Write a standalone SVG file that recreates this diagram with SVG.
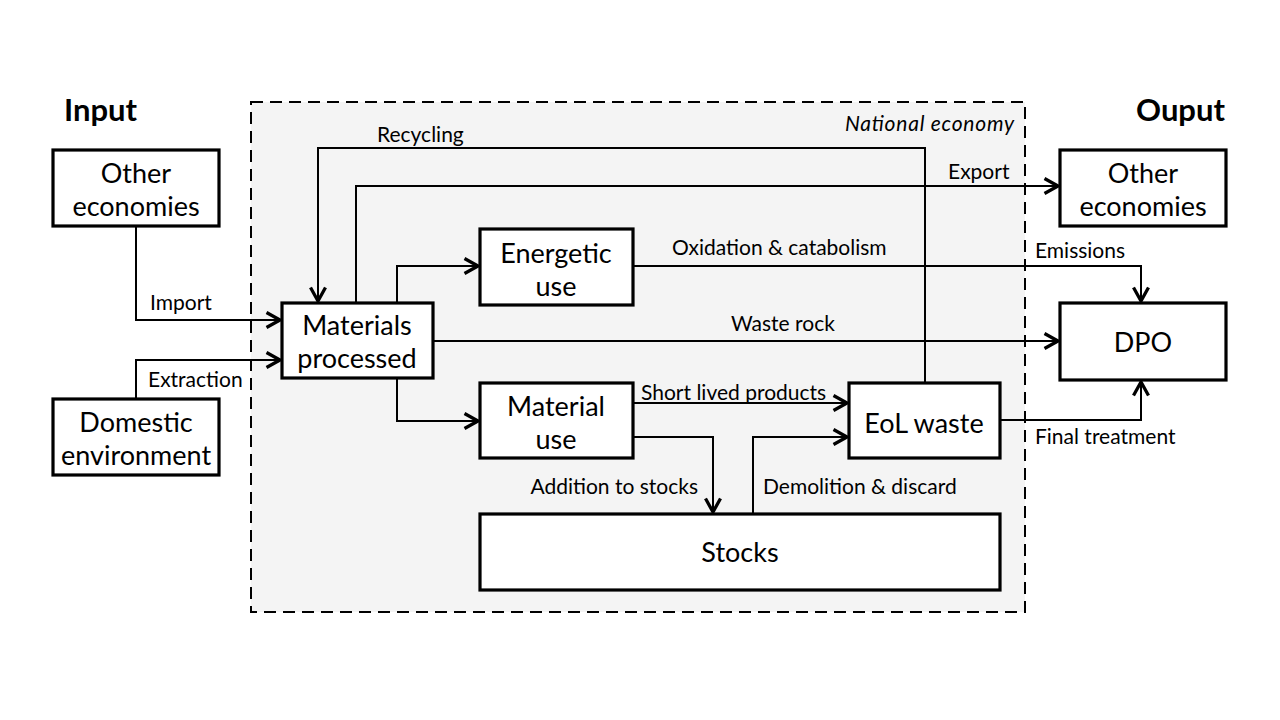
<svg xmlns="http://www.w3.org/2000/svg" width="1280" height="720" viewBox="0 0 1280 720">
<defs>
<marker id="arr" viewBox="0 0 18 18" refX="16.5" refY="9" markerWidth="18" markerHeight="18" markerUnits="userSpaceOnUse" orient="auto">
<path d="M2,1.5 L15.5,9 L2,16.5" fill="none" stroke="#000" stroke-width="3.3" stroke-linejoin="miter"/>
</marker>
<style>
.box{fill:#fff;stroke:#000;stroke-width:3.2}
.nt{font-family:Lato,"Open Sans","Liberation Sans",sans-serif;font-size:27px;fill:#000;text-anchor:middle}
.lb{font-family:Lato,"Open Sans","Liberation Sans",sans-serif;font-size:21px;fill:#000}
.hd{font-family:Lato,"Open Sans","Liberation Sans",sans-serif;font-size:31px;font-weight:bold;fill:#000}
.c{fill:none;stroke:#000;stroke-width:2}
.ca{fill:none;stroke:#000;stroke-width:2;marker-end:url(#arr)}
</style>
</defs>
<rect width="1280" height="720" fill="#fff"/>
<g id="national-economy">
<rect x="251" y="102" width="774" height="510" fill="#f4f4f4" stroke="#000" stroke-width="2" stroke-dasharray="12,7"/>
<text x="1014" y="131" class="lb" font-size="22" font-style="italic" text-anchor="end" textLength="169">National economy</text>
</g>
<text x="64" y="121" class="hd">Input</text>
<text x="1225" y="121" class="hd" text-anchor="end">Ouput</text>
<g id="connectors">
<path class="ca" d="M925,383 V148 H318 V302"/>
<path class="ca" d="M356,303 V186 H1059"/>
<path class="ca" d="M397,303 V266 H479"/>
<path class="ca" d="M633,266 H1141 V302"/>
<path class="ca" d="M433,341 H1059"/>
<path class="ca" d="M136,226 V320 H281"/>
<path class="ca" d="M136,399 V360 H281"/>
<path class="ca" d="M397,378 V421 H479"/>
<path class="ca" d="M633,403 H848"/>
<path class="ca" d="M633,437 H713 V513"/>
<path class="ca" d="M753,514 V437 H848"/>
<path class="ca" d="M1000,420 H1141 V381"/>
<text x="377" y="142" class="lb">Recycling</text>
<text x="948" y="179" class="lb">Export</text>
<text x="672" y="255" class="lb">Oxidation &amp; catabolism</text>
<text x="1035" y="258" class="lb">Emissions</text>
<text x="731" y="331" class="lb">Waste rock</text>
<text x="150" y="310" class="lb">Import</text>
<text x="148" y="387" class="lb">Extraction</text>
<text x="641" y="400" class="lb">Short lived products</text>
<text x="698" y="494" class="lb" text-anchor="end">Addition to stocks</text>
<text x="763" y="494" class="lb">Demolition &amp; discard</text>
<text x="1035" y="444" class="lb">Final treatment</text>
</g>
<g id="other-economies-in">
<rect class="box" x="53" y="150" width="166" height="76"/>
<text class="nt" x="136" y="183">Other</text>
<text class="nt" x="136" y="216">economies</text>
</g>
<g id="domestic-environment">
<rect class="box" x="53" y="399" width="166" height="76"/>
<text class="nt" x="136" y="432">Domestic</text>
<text class="nt" x="136" y="465">environment</text>
</g>
<g id="materials-processed">
<rect class="box" x="282" y="303" width="151" height="75"/>
<text class="nt" x="357" y="335">Materials</text>
<text class="nt" x="357" y="368">processed</text>
</g>
<g id="energetic-use">
<rect class="box" x="480" y="229" width="153" height="76"/>
<text class="nt" x="556" y="263">Energetic</text>
<text class="nt" x="556" y="296">use</text>
</g>
<g id="material-use">
<rect class="box" x="480" y="383" width="153" height="75"/>
<text class="nt" x="556" y="416">Material</text>
<text class="nt" x="556" y="449">use</text>
</g>
<g id="eol-waste">
<rect class="box" x="849" y="383" width="151" height="75"/>
<text class="nt" x="924" y="433">EoL waste</text>
</g>
<g id="stocks">
<rect class="box" x="480" y="514" width="520" height="76"/>
<text class="nt" x="740" y="562">Stocks</text>
</g>
<g id="other-economies-out">
<rect class="box" x="1060" y="150" width="166" height="76"/>
<text class="nt" x="1143" y="183">Other</text>
<text class="nt" x="1143" y="216">economies</text>
</g>
<g id="dpo">
<rect class="box" x="1060" y="303" width="166" height="77"/>
<text class="nt" x="1143" y="352">DPO</text>
</g>
</svg>
